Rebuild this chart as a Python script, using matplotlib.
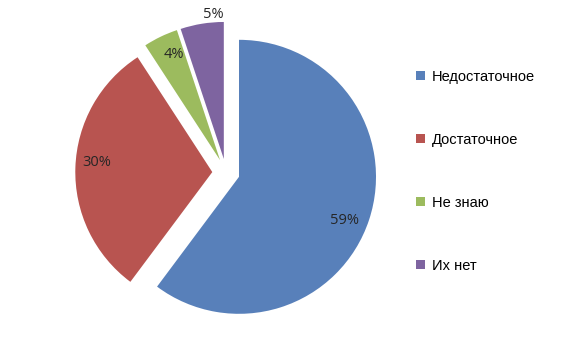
import matplotlib
matplotlib.use('Agg')
import matplotlib.pyplot as plt
import numpy as np

# data
categories = ['Недостаточное', 'Достаточное', 'Не знаю', 'Их нет']
values = [59, 30, 4, 5]
pct_labels = ['59%', '30%', '4%', '5%']
colors = ['#5880BA', '#B85450', '#9CBB5E', '#7E64A0']

# label placement relative to each wedge (fraction of radius, angle shift in deg)
label_dist = [0.83, 0.85, 0.84, 1.06]
label_shift = [-4, -3, -2, -5]

plt.rcParams['font.family'] = ['Liberation Sans', 'DejaVu Sans']

W, H = 565, 338
fig = plt.figure(figsize=(W / 100, H / 100), dpi=100)
fig.patch.set_facecolor('white')

# pie centre (226, 172.5) px from top-left, radius 137 px
cx, cy, r = 226, H - 172.5, 137
lim = 1.25
side = 2 * lim * r
ax = fig.add_axes([(cx - side / 2) / W, (cy - side / 2) / H, side / W, side / H])

wedges, _ = ax.pie(values, colors=colors, startangle=90, counterclock=False,
                   explode=[0.1] * len(values), radius=1.0,
                   wedgeprops=dict(linewidth=0))
ax.set_xlim(-lim, lim)
ax.set_ylim(-lim, lim)
ax.set_aspect('auto')
ax.axis('off')

for w, txt, d, s in zip(wedges, pct_labels, label_dist, label_shift):
    ang = np.deg2rad((w.theta1 + w.theta2) / 2 + s)
    x0, y0 = w.center
    ax.text(x0 + d * w.r * np.cos(ang), y0 + d * w.r * np.sin(ang), txt,
            ha='center', va='center', fontsize=10.5, color='#262626',
            family=['Open Sans', 'DejaVu Sans'])

fig.legend(wedges, categories, loc='upper left',
           bbox_to_anchor=(416 / W, 1 - 70 / H), frameon=False,
           borderaxespad=0, borderpad=0, fontsize=10.5,
           handlelength=0.6, handleheight=0.6, handletextpad=0.5,
           labelspacing=3.35)

fig.savefig('out.png', dpi=100, facecolor='white')
